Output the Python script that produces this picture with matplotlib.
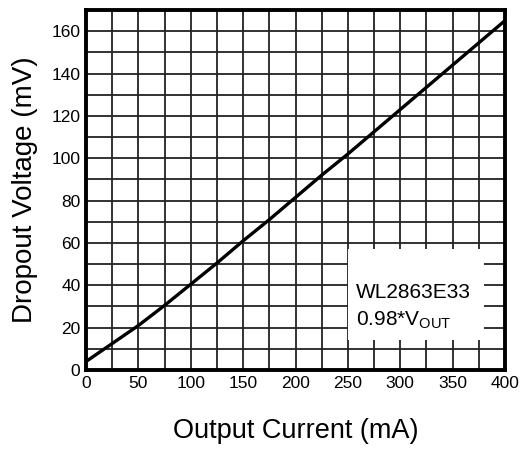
import matplotlib
matplotlib.use("Agg")
import matplotlib.pyplot as plt
from matplotlib.patches import Rectangle

plt.rcParams['font.family'] = ['Liberation Sans', 'DejaVu Sans']
plt.rcParams['mathtext.fontset'] = 'custom'
plt.rcParams['mathtext.rm'] = 'Liberation Sans'

# dropout voltage vs output current
current = [0, 25, 50, 75, 100, 125, 150, 175, 200, 225, 250, 275, 300, 325, 350, 375, 400]
dropout = [4, 12.5, 21, 30.5, 40.5, 50.5, 61, 71, 81.5, 92, 102, 112.5, 123, 133.5, 144, 154.5, 165]

xTicks = [0, 50, 100, 150, 200, 250, 300, 350, 400]
yTicks = [0, 20, 40, 60, 80, 100, 120, 140, 160]
noteLines = ["WL2863E33", "0.98*V$_{\\mathrm{OUT}}$"]

fig = plt.figure(figsize=(5.2, 4.54), dpi=100)
ax = fig.add_axes([86 / 520, (454 - 370) / 454, 419 / 520, 360 / 454])

ax.set_xlim(0, 400)
ax.set_ylim(0, 170)
ax.set_xticks(xTicks)
ax.set_yticks(yTicks)
ax.set_xticks(range(0, 401, 25), minor=True)
ax.set_yticks(range(0, 171, 10), minor=True)
ax.grid(True, which='both', color='#222222', linewidth=1.3)
ax.set_axisbelow(True)
ax.tick_params(which='both', length=0, labelsize=12.5, pad=4)

ax.plot(current, dropout, color='black', linewidth=2.4, zorder=3)

ax.add_patch(Rectangle((250, 14), 130, 43, facecolor='white', edgecolor='none', zorder=2.5))
ax.text(258, 36.5, noteLines[0], fontsize=15, va='center', ha='left', zorder=4)
ax.text(258, 23.5, noteLines[1], fontsize=15, va='center', ha='left', zorder=4)

for s in ax.spines.values():
    s.set_linewidth(2.8)
    s.set_zorder(5)

ax.set_xlabel("Output Current (mA)", fontsize=19.5, labelpad=20)
ax.set_ylabel("Dropout Voltage (mV)", fontsize=20, labelpad=10)

plt.savefig("out.png", dpi=100)
